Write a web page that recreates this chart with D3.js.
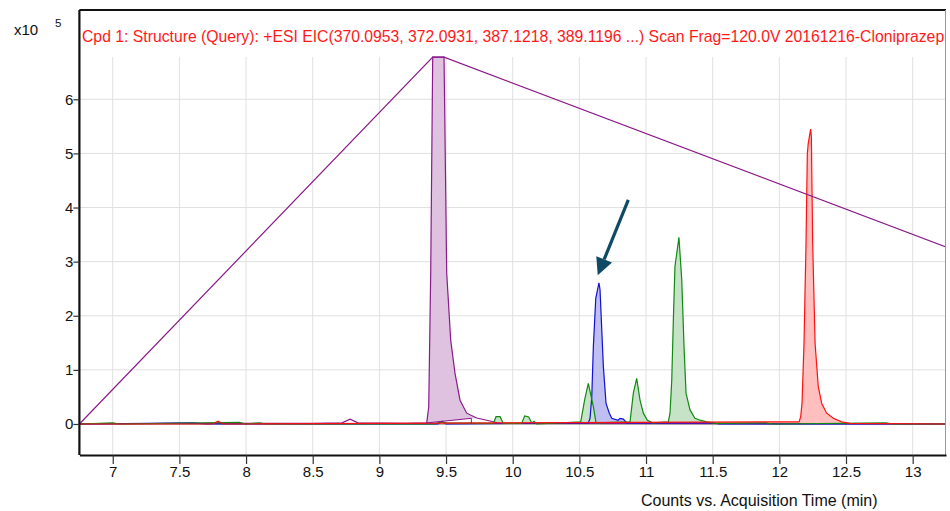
<!DOCTYPE html>
<html><head><meta charset="utf-8">
<script src="https://cdn.jsdelivr.net/npm/d3@7"></script>
<style>
body{margin:0;background:#fff}
svg{display:block;font-family:Arial,"Liberation Sans",sans-serif}
</style>
</head><body>
<svg id="c" width="950" height="511"></svg>
<script>
// ---------- data (time in min, counts in x10^5) ----------
const xTickValues = [7, 7.5, 8, 8.5, 9, 9.5, 10, 10.5, 11, 11.5, 12, 12.5, 13];
const yTickValues = [0, 1, 2, 3, 4, 5, 6];
const titleText = "Cpd 1: Structure (Query): +ESI EIC(370.0953, 372.0931, 387.1218, 389.1196 ...) Scan Frag=120.0V 20161216-Cloniprazep";
const xAxisTitle = "Counts vs. Acquisition Time (min)";

const purpleEnvelope = [[6.75, 0], [9.40, 6.78], [9.485, 6.78], [13.25, 3.27]];
const purpleTrace = [[6.75, 0], [7.5, 0.01], [8.5, 0.01], [8.72, 0.02], [8.78, 0.09], [8.84, 0.02], [9.2, 0.01],
  [9.355, 0.02], [9.37, 0.31], [9.385, 2.79], [9.40, 6.78], [9.485, 6.78], [9.505, 2.79], [9.535, 1.55],
  [9.567, 0.94], [9.605, 0.44], [9.655, 0.20], [9.73, 0.11], [9.83, 0.055], [9.9, 0.01], [10.5, 0.01], [13.25, 0]];
const purpleBaseline = [[9.355, 0.02], [9.69, 0.105]];

const blueTrace = [[6.75, 0], [7.6, 0.02], [7.7, 0], [9.44, 0], [9.47, 0.05], [9.5, 0], [10.567, 0.02], [10.58, 0.105],
  [10.593, 0.50], [10.605, 1.43], [10.623, 2.32], [10.647, 2.61], [10.655, 2.48], [10.668, 1.74], [10.68, 1.06],
  [10.70, 0.38], [10.725, 0.20], [10.743, 0.105], [10.79, 0.07], [10.805, 0.105], [10.83, 0.09], [10.855, 0.02],
  [11.5, 0.02], [11.55, 0], [13.25, 0]];

const greenTrace = [[6.75, 0], [7.0, 0.02], [7.05, 0], [7.95, 0.03], [8.0, 0], [8.1, 0.02], [8.15, 0], [9.42, 0], [9.45, 0.04],
  [9.5, 0.02], [9.855, 0.01], [9.875, 0.135], [9.905, 0.135], [9.93, 0.01], [10.067, 0.01], [10.09, 0.15],
  [10.12, 0.13], [10.143, 0.02], [10.16, 0.05], [10.18, 0], [10.51, 0.04], [10.54, 0.45], [10.567, 0.75],
  [10.605, 0.32], [10.625, 0.02], [10.88, 0.04], [10.905, 0.57], [10.93, 0.845], [10.955, 0.44], [10.98, 0.2],
  [11.01, 0.07], [11.05, 0.02], [11.167, 0.04], [11.18, 0.2], [11.193, 0.81], [11.205, 1.92], [11.217, 2.91],
  [11.247, 3.45], [11.268, 2.66], [11.285, 1.43], [11.30, 0.57], [11.33, 0.26], [11.367, 0.105], [11.405, 0.07],
  [11.455, 0.04], [11.517, 0.01], [11.9, 0.02], [11.95, 0], [12.8, 0.02], [12.85, 0], [13.25, 0]];

const redTrace = [[6.75, 0], [7.75, 0], [7.79, 0.05], [7.83, 0], [12.148, 0.04], [12.16, 0.135], [12.17, 0.38],
  [12.185, 1.49], [12.20, 3.34], [12.21, 5.0], [12.217, 5.19], [12.235, 5.45], [12.24, 5.31], [12.25, 3.34],
  [12.268, 1.49], [12.292, 0.69], [12.318, 0.38], [12.355, 0.2], [12.405, 0.105], [12.468, 0.04], [12.53, 0.01], [13.25, 0]];

const arrowFrom = [10.867, 4.14];
const arrowTo = [10.638, 2.75];

// ---------- layout ----------
const svg = d3.select("#c");
const L = 79.4, R = 946, T = 10, B = 455;
const x = d3.scaleLinear().domain([6.75, 13.25]).range([L, R]);
const y = d3.scaleLinear().domain([-0.573, 7.65]).range([B, T]);
const gridTop = 57;

svg.append("defs").append("clipPath").attr("id", "plot")
  .append("rect").attr("x", L).attr("y", T).attr("width", 945 - L).attr("height", B - T);

const g = svg.append("g").attr("clip-path", "url(#plot)");

// grid
g.selectAll(".vg").data(xTickValues).join("line")
  .attr("x1", d => x(d)).attr("x2", d => x(d)).attr("y1", gridTop).attr("y2", B)
  .attr("stroke", "#e0e0e0").attr("stroke-width", 1);
g.selectAll(".hg").data(yTickValues).join("line")
  .attr("x1", L).attr("x2", R).attr("y1", d => y(d)).attr("y2", d => y(d))
  .attr("stroke", d => d === 0 ? "#666" : "#e0e0e0").attr("stroke-width", 1);

const line = d3.line().x(d => x(d[0])).y(d => y(d[1]));
const area = d3.area().x(d => x(d[0])).y0(y(0)).y1(d => y(d[1]));

// purple area with sloped integration baseline
const bl = d3.scaleLinear().domain([purpleBaseline[0][0], purpleBaseline[1][0]]).range([purpleBaseline[0][1], purpleBaseline[1][1]]).clamp(true);
const purplePeakPts = purpleTrace.filter(d => d[0] >= purpleBaseline[0][0] && d[0] <= 9.83);
const purpleArea = d3.area().x(d => x(d[0])).y0(d => y(bl(d[0]))).y1(d => y(Math.max(d[1], bl(d[0]))));
g.append("path").datum(purplePeakPts).attr("d", purpleArea).attr("fill", "#dfc2df");

const series = [
  {data: blueTrace, fill: "#bcbcf0", stroke: "#1010d8"},
  {data: greenTrace, fill: "#c4e2c4", stroke: "#108a10"},
  {data: redTrace, fill: "#ffbcbc", stroke: "#ff1010"}
];
series.forEach(s => {
  g.append("path").datum(s.data).attr("d", area).attr("fill", s.fill).attr("fill-opacity", 0.95);
});

g.append("path").datum(purpleTrace).attr("d", line).attr("fill", "none").attr("stroke", "#8a1a8a").attr("stroke-width", 1.2);
series.forEach(s => {
  g.append("path").datum(s.data).attr("d", line).attr("fill", "none").attr("stroke", s.stroke).attr("stroke-width", 1.2);
});
// integration baseline of purple peak
g.append("path").datum(purpleBaseline).attr("d", line).attr("fill", "none").attr("stroke", "#8a1a8a").attr("stroke-width", 1);
g.append("line").attr("x1", x(purpleBaseline[1][0])).attr("x2", x(purpleBaseline[1][0]))
  .attr("y1", y(purpleBaseline[1][1])).attr("y2", y(0)).attr("stroke", "#8a1a8a").attr("stroke-width", 1);
// envelope line
g.append("path").datum(purpleEnvelope).attr("d", line).attr("fill", "none").attr("stroke", "#8a1a8a").attr("stroke-width", 1.2);

// title (fit inside the plot frame)
const title = svg.append("text").attr("x", 82).attr("y", 42).attr("fill", "#ff1a1a").attr("font-size", 15.8).text(titleText);
const tw = title.node().getComputedTextLength();
const maxW = 944 - 82;
if (tw > maxW) title.attr("font-size", 15.8 * maxW / tw);

// frame
svg.append("line").attr("x1", L).attr("x2", 946).attr("y1", T).attr("y2", T).attr("stroke", "#111").attr("stroke-width", 2);
svg.append("line").attr("x1", 945.5).attr("x2", 945.5).attr("y1", T).attr("y2", B).attr("stroke", "#999").attr("stroke-width", 1);

// axes
const xAxis = svg.append("g").attr("transform", `translate(0,${B})`)
  .call(d3.axisBottom(x).tickValues(xTickValues).tickSize(9).tickPadding(2.5).tickSizeOuter(0).tickFormat(d3.format("")));
xAxis.select(".domain").attr("stroke", "#111").attr("stroke-width", 2.2);
xAxis.selectAll(".tick line").attr("stroke", "#333").attr("stroke-width", 1.2);
xAxis.selectAll(".tick text").attr("font-size", 15).attr("fill", "#111").attr("font-family", "Arial, 'Liberation Sans', sans-serif");

const yAxis = svg.append("g").attr("transform", `translate(${L},0)`)
  .call(d3.axisLeft(y).tickValues(yTickValues).tickSize(6).tickSizeOuter(0).tickFormat(d3.format("")));
yAxis.select(".domain").attr("d", `M0,${T}V${B}`).attr("stroke", "#111").attr("stroke-width", 2.2);
yAxis.selectAll(".tick line").attr("stroke", "#333").attr("stroke-width", 1.2);
yAxis.selectAll(".tick text").attr("font-size", 15).attr("fill", "#111").attr("x", -6).attr("font-family", "Arial, 'Liberation Sans', sans-serif");

// exponent label
svg.append("text").attr("x", 14).attr("y", 35).attr("font-size", 15).attr("fill", "#111").text("x10");
svg.append("text").attr("x", 55).attr("y", 27).attr("font-size", 11.5).attr("fill", "#111").text("5");

// x-axis title
svg.append("text").attr("x", 641).attr("y", 506).attr("font-size", 16).attr("fill", "#111").text(xAxisTitle);

// arrow annotation
const ax0 = x(arrowFrom[0]), ay0 = y(arrowFrom[1]), ax1 = x(arrowTo[0]), ay1 = y(arrowTo[1]);
const ang = Math.atan2(ay1 - ay0, ax1 - ax0);
const headLen = 17, headW = 8.5;
const bx = ax1 - headLen * Math.cos(ang), by = ay1 - headLen * Math.sin(ang);
svg.append("line").attr("x1", ax0).attr("y1", ay0).attr("x2", bx).attr("y2", by)
  .attr("stroke", "#0e4a63").attr("stroke-width", 3.2);
svg.append("path").attr("d", d3.line()([
  [ax1, ay1],
  [bx + headW * Math.sin(ang), by - headW * Math.cos(ang)],
  [bx - headW * Math.sin(ang), by + headW * Math.cos(ang)]
]) + "Z").attr("fill", "#0e4a63");
</script>
</body></html>
